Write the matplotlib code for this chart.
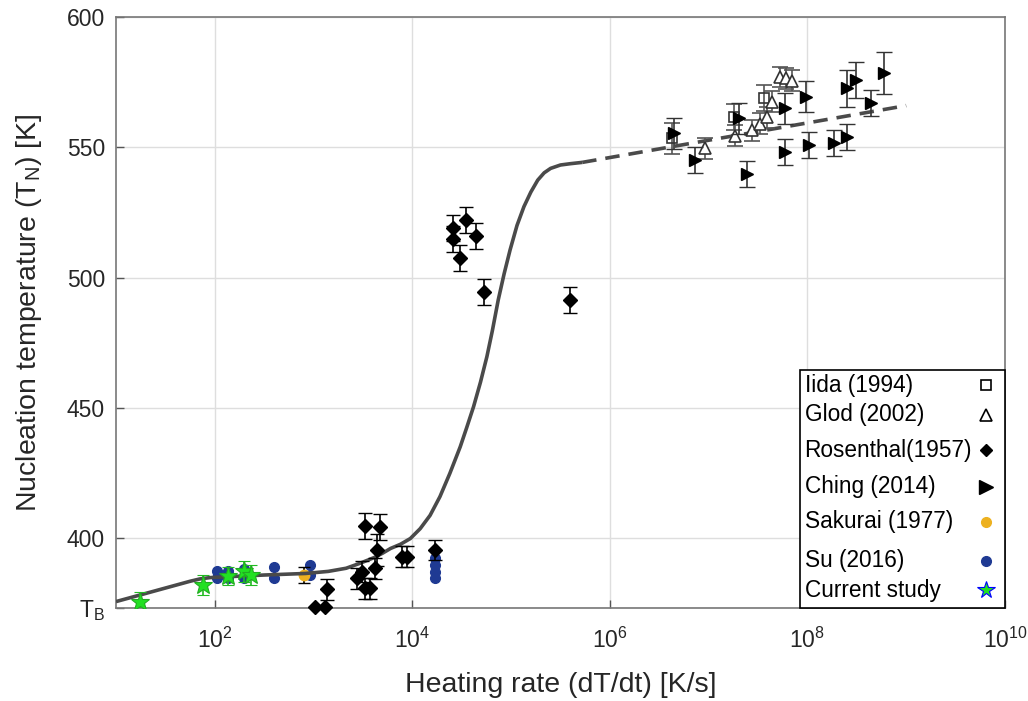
import numpy as np
import matplotlib
matplotlib.use("Agg")
import matplotlib.pyplot as plt
from matplotlib.ticker import FixedLocator, NullLocator
from matplotlib.patches import Rectangle

plt.rcParams['font.family'] = ['Liberation Sans', 'DejaVu Sans']
plt.rcParams['mathtext.fontset'] = 'custom'
plt.rcParams['mathtext.rm'] = 'Liberation Sans'
plt.rcParams['mathtext.it'] = 'Liberation Sans'

model_lograte = [1.0, 1.25, 1.5, 1.75, 1.85, 1.95, 2.1, 2.5, 2.92, 3.15, 3.33, 3.47, 3.62, 3.70,
                 3.78, 3.88, 3.98, 4.08, 4.18, 4.28, 4.38, 4.485, 4.55, 4.62, 4.69, 4.755,
                 4.81, 4.87, 4.93, 4.99, 5.06, 5.13, 5.20, 5.27, 5.335, 5.40, 5.50, 5.60, 5.72]
model_T = [375.6, 378.2, 380.8, 383.4, 384.3, 384.8, 385.1, 385.8, 386.4, 387.2, 388.4, 390.3, 392.6, 394.2,
           396.0, 397.6, 399.8, 403.6, 408.7, 415.9, 424.8, 435.0, 442.3, 450.4, 459.8, 469.6,
           479.5, 491.4, 501.5, 510.6, 520.0, 527.2, 532.8, 537.4, 540.2, 541.9, 543.2, 543.7, 544.2]
extrap_lograte = [5.72, 9.0]
extrap_T = [544.2, 566.0]

# ---- Iida (1994) ----
iida_rate = [4.27e6, 1.80e7, 3.61e7]
iida_T = [553.4, 561.7, 568.8]
iida_err = [6, 5, 5]

# ---- Glod (2002) ----
glod_rate = [9.29e6, 1.87e7, 2.78e7, 3.35e7, 3.86e7, 4.33e7, 5.33e7, 6.14e7, 7.06e7]
glod_T = [549.6, 554.5, 556.6, 559.0, 561.5, 567.5, 577.0, 576.5, 575.5]
glod_err = [4, 4, 4, 4, 4, 4, 4, 4, 4]

# ---- Rosenthal (1957) ----
ros_rate = [1040, 1310, 1365, 2750, 3085, 3330, 3740, 3330, 4730, 4380, 4210, 7850, 8820, 17100,
            25700, 26100, 34900, 44400, 30500, 53500, 3.98e5]
ros_T = [373.4, 373.4, 380.3, 384.5, 387.1, 380.7, 380.7, 404.6, 404.3, 395.4, 388.4, 392.8, 392.8, 395.4,
         514.7, 518.9, 522.1, 516.1, 507.6, 494.5, 491.4]
ros_err = [0, 0, 4, 4, 4, 4, 4, 5, 5, 6, 4, 4, 4, 4,
           5, 5, 5, 5, 5, 5, 5]

# ---- Ching (2014) ----
ching_rate = [4.43e6, 7.23e6, 2.02e7, 2.45e7, 6.0e7, 6.0e7, 9.57e7, 1.04e8, 1.85e8, 2.53e8, 2.53e8,
              3.07e8, 4.36e8, 5.94e8]
ching_T = [555.3, 545.1, 561.1, 539.7, 565.0, 548.3, 569.4, 550.9, 551.5, 554.0, 572.6,
           575.8, 566.9, 578.4]
ching_err = [6, 5, 6, 5, 6, 5, 6, 5, 5, 5, 7, 7, 5, 8]

# ---- Sakurai (1977) ----
sak_rate = [804]
sak_T = [385.8]
sak_err = [3]

# ---- Su (2016) ----
su_rate = [105, 105, 135, 135, 200, 200, 398, 398, 925, 925, 17100, 17100, 17100, 17100]
su_T = [387.5, 384.5, 387.5, 384.5, 388.0, 384.5, 389.0, 384.5, 389.5, 386.0, 392.3, 389.6, 387.1, 384.5]

# ---- Current study ----
cur_rate = [17.4, 75.9, 135, 200, 234]
cur_T = [375.6, 382.0, 385.4, 387.3, 385.8]
cur_err = [3.5, 3.8, 3.5, 4.0, 4.0]

T_B = 373.15

legend_labels = ['Iida (1994)', 'Glod (2002)', 'Rosenthal(1957)', 'Ching (2014)',
                 'Sakurai (1977)', 'Su (2016)', 'Current study']

fig = plt.figure(figsize=(10.28, 7.01), dpi=100)
ax = fig.add_axes([0.1128, 0.1327, 0.8648, 0.843])

ax.set_xscale('log')
ax.set_xlim(10, 1e10)
ax.set_ylim(T_B, 600)

ax.grid(True, color='#dedede', linewidth=1)
ax.set_axisbelow(True)

# model line
ax.plot(10 ** np.array(model_lograte), model_T, color='#4a4a4a', lw=2.6, zorder=3,
        solid_capstyle='butt')
ax.plot(10 ** np.array(extrap_lograte), extrap_T, color='#4a4a4a', lw=2.6, dashes=(4, 2.5), zorder=3)

# Su
ax.plot(su_rate, su_T, 'o', color='#1f3a93', ms=7, mec='#1f3a93', zorder=2)

# Sakurai
ax.errorbar(sak_rate, sak_T, yerr=sak_err, fmt='o', color='#edb120', mec='#edb120', ms=7.5,
            ecolor='black', elinewidth=1.2, capsize=4, zorder=2)

# Rosenthal
ros_rate_a = np.array(ros_rate)
ros_T_a = np.array(ros_T)
ros_err_a = np.array(ros_err)
has_err = ros_err_a > 0
ax.errorbar(ros_rate_a[has_err], ros_T_a[has_err], yerr=ros_err_a[has_err], fmt='none',
            ecolor='black', elinewidth=1.2, capsize=5, zorder=4)
ax.plot(ros_rate_a, ros_T_a, 'D', color='black', ms=6.8, zorder=4, clip_on=False)

# Iida
ax.errorbar(iida_rate, iida_T, yerr=iida_err, fmt='s', mfc='none', mec='#333333', ms=7,
            mew=1.2, ecolor='#555555', elinewidth=1.2, capsize=6, zorder=4)

# Glod
ax.errorbar(glod_rate, glod_T, yerr=glod_err, fmt='^', mfc='white', mec='#333333', ms=9,
            mew=1.2, ecolor='#555555', elinewidth=1.2, capsize=6, zorder=4)

# Ching
ax.errorbar(ching_rate, ching_T, yerr=ching_err, fmt='>', color='black', ms=9,
            ecolor='#333333', elinewidth=1.2, capsize=6, zorder=5)

# Current study
ax.errorbar(cur_rate, cur_T, yerr=cur_err, fmt='*', mfc='#22e022', mec='#22aa22', ms=14,
            mew=0.8, ecolor='#22bb22', elinewidth=1.2, capsize=4, zorder=6)

# ticks
ax.xaxis.set_major_locator(FixedLocator([1e2, 1e4, 1e6, 1e8, 1e10]))
ax.xaxis.set_minor_locator(NullLocator())
ax.set_yticks([T_B, 400, 450, 500, 550, 600])
ax.set_yticklabels(['T$_\\mathregular{B}$', '400', '450', '500', '550', '600'])
ax.tick_params(direction='in', length=6, width=1, colors='#555555', labelcolor='#262626',
               labelsize=16.5, pad=8)
ax.tick_params(axis='x', pad=14)
for s in ax.spines.values():
    s.set_color('#777777')
    s.set_linewidth(1.2)

ax.set_xlabel('Heating rate (dT/dt) [K/s]', fontsize=20.5, color='#262626', labelpad=14)
ax.set_ylabel('Nucleation temperature (T$_\\mathregular{N}$) [K]', fontsize=20.5,
              color='#262626', labelpad=16)

# legend box, text on the left and marker on the right
box = Rectangle((0.7694, 0.0), 0.2306, 0.4027, transform=ax.transAxes, facecolor='white',
                edgecolor='black', lw=1.2, zorder=10, clip_on=False)
ax.add_patch(box)
leg_y = [0.377, 0.327, 0.267, 0.205, 0.146, 0.080, 0.030]
leg_style = [dict(marker='s', mfc='none', mec='black', ms=7, mew=1.2),
             dict(marker='^', mfc='none', mec='black', ms=9, mew=1.2),
             dict(marker='D', color='black', ms=6),
             dict(marker='>', color='black', ms=10),
             dict(marker='o', color='#edb120', ms=7),
             dict(marker='o', color='#1f3a93', ms=7),
             dict(marker='*', mfc='#22e022', mec='blue', ms=13, mew=0.8)]
for lab, yy, st in zip(legend_labels, leg_y, leg_style):
    ax.text(0.7745, yy, lab, transform=ax.transAxes, fontsize=16.3, color='black',
            ha='left', va='center', zorder=11)
    ax.plot([0.9786], [yy], transform=ax.transAxes, ls='none', zorder=11, clip_on=False, **st)

fig.savefig('out.png', dpi=100)
